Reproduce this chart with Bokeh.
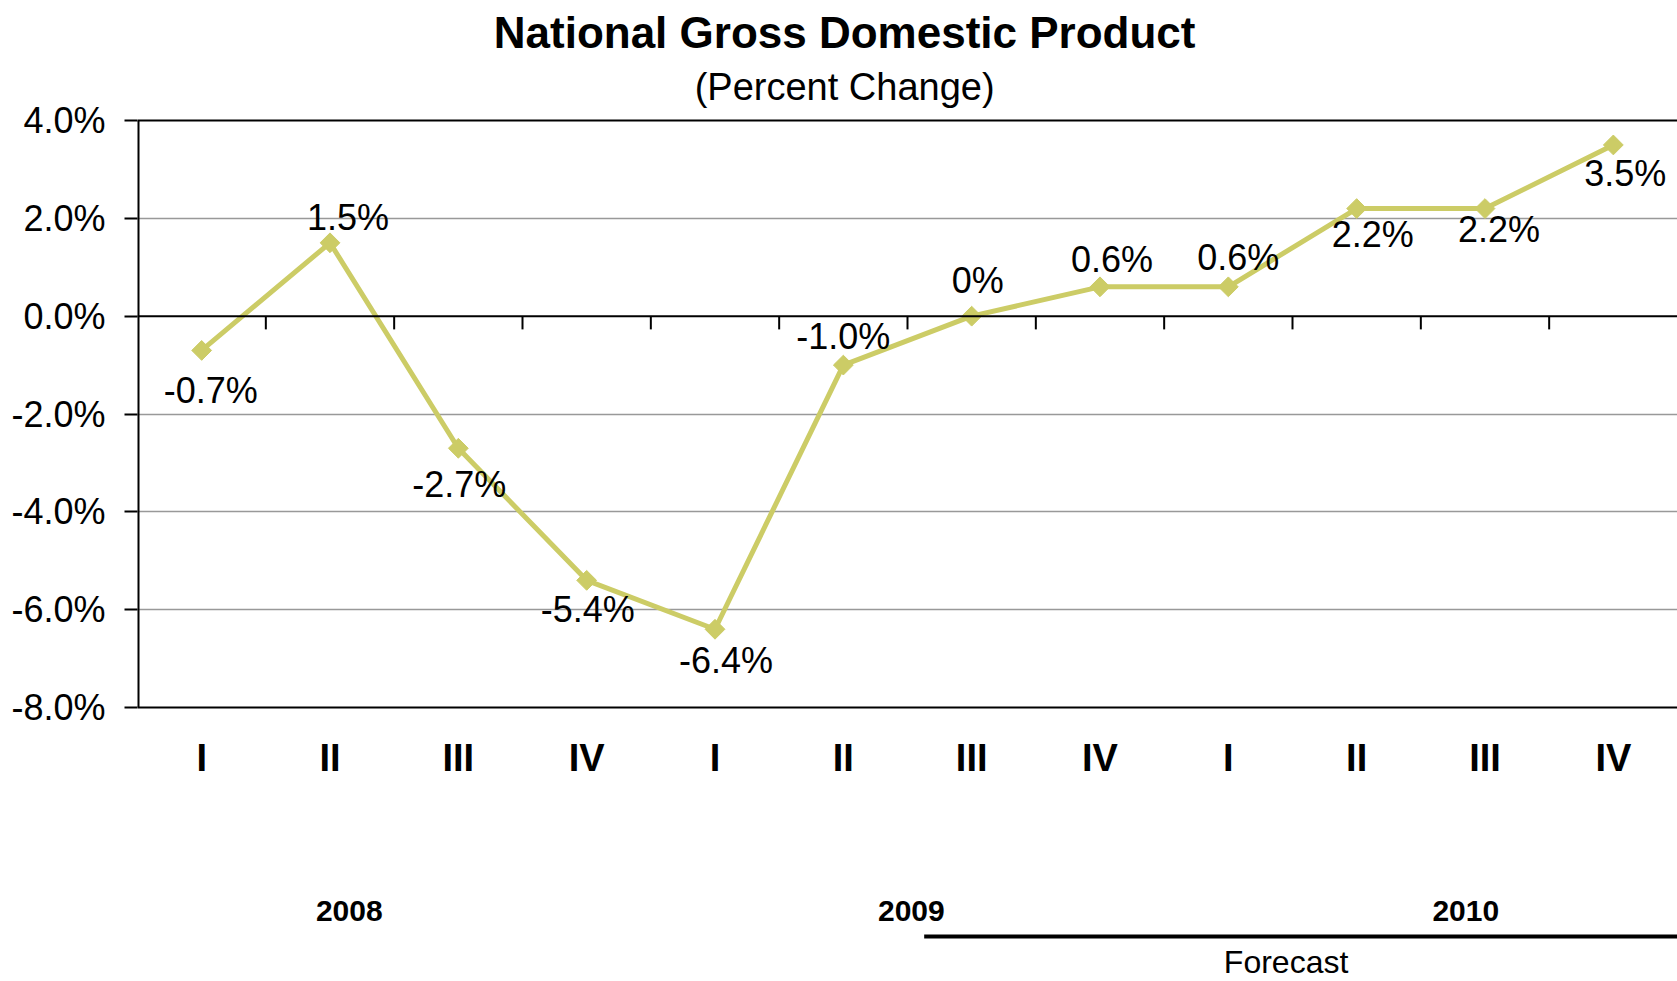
import math
from bokeh.plotting import figure
from bokeh.models import Range1d, FixedTicker, PrintfTickFormatter, Span, ColumnDataSource
from bokeh.core.properties import value
from bokeh.embed import file_html
from bokeh.resources import INLINE

# ---- data ----
quarters = ["I", "II", "III", "IV", "I", "II", "III", "IV", "I", "II", "III", "IV"]
years = ["2008", "2009", "2010"]
gdp = [-0.7, 1.5, -2.7, -5.4, -6.4, -1.0, 0.0, 0.6, 0.6, 2.2, 2.2, 3.5]
y_ticks = [-8, -6, -4, -2, 0, 2, 4]
title_text = "National Gross Domestic Product"
subtitle_text = "(Percent Change)"
forecast_text = "Forecast"

# ---- layout constants (pixel offsets / positions) ----
label_dx = [9, 18, 1, 1, 11, 0, 6, 12, 10, 16, 14, 12]
label_dy = [40, -25, 36, 29, 31, -29, -36, -27, -29, 26, 21, 29]
year_x = [1.15, 5.53, 9.85]
year_y = -12.15
forecast_x0 = 5.63
forecast_y = -12.68
forecast_label_x = 8.45
forecast_label_y = -13.21

FONT = value("Liberation Sans")
LINE_COLOR = "#CCCC66"

xs = list(range(len(gdp)))
labels = ["0%" if v == 0 else f"{v:.1f}%" for v in gdp]

p = figure(width=1677, height=981,
           x_range=Range1d(-0.5, len(gdp) - 0.5),
           y_range=Range1d(-13.6, 6.453),
           output_backend="svg", toolbar_location=None,
           x_axis_location=None,
           min_border_left=137, min_border_right=0,
           min_border_top=0, min_border_bottom=0,
           outline_line_color=None,
           background_fill_color="white", border_fill_color="white")

# y axis
ax = p.yaxis[0]
ax.ticker = FixedTicker(ticks=y_ticks)
ax.formatter = PrintfTickFormatter(format="%.1f%%")
ax.axis_line_color = None
ax.major_tick_out = 13
ax.major_tick_in = 0
ax.minor_tick_out = 0
ax.minor_tick_in = 0
ax.major_tick_line_color = "black"
ax.major_tick_line_width = 2
ax.major_label_standoff = 19
ax.major_label_text_font = "Liberation Sans"
ax.major_label_text_font_size = "36px"
ax.major_label_text_color = "black"

p.ygrid.ticker = FixedTicker(ticks=[t for t in y_ticks if t not in (y_ticks[0], 0, y_ticks[-1])])
p.ygrid.grid_line_color = "#999999"
p.ygrid.grid_line_width = 1.5
p.xgrid.visible = False

for yv in (y_ticks[0], 0, y_ticks[-1]):
    p.add_layout(Span(location=yv, dimension="width", line_color="black", line_width=2))

# left axis line
p.segment(x0=[-0.5], y0=[y_ticks[0]], x1=[-0.5], y1=[y_ticks[-1]], line_color="black", line_width=4)

# category boundary ticks on the zero line
bounds = [i + 0.5 for i in range(len(gdp) - 1)]
p.segment(x0=bounds, y0=[0] * len(bounds), x1=bounds, y1=[-0.27] * len(bounds),
          line_color="black", line_width=2)

# series
src = ColumnDataSource(dict(x=xs, y=gdp, text=labels, dx=label_dx, dy=label_dy))
p.line("x", "y", source=src, line_color=LINE_COLOR, line_width=5)
p.scatter("x", "y", source=src, marker="square", size=14, angle=math.pi / 4,
          fill_color=LINE_COLOR, line_color=LINE_COLOR)
p.text("x", "y", text="text", source=src, x_offset="dx", y_offset="dy",
       text_font=FONT, text_font_size="36px", text_align="center",
       text_baseline="middle", text_color="black")

# quarter labels
p.text(x=xs, y=[y_ticks[0]] * len(xs), text=quarters, y_offset=50,
       text_font=FONT, text_font_size="38px", text_font_style="bold",
       text_align="center", text_baseline="middle", text_color="black")

# year labels
p.text(x=year_x, y=[year_y] * len(years), text=years,
       text_font=FONT, text_font_size="30px", text_font_style="bold",
       text_align="center", text_baseline="middle", text_color="black")

# forecast bar
p.segment(x0=[forecast_x0], y0=[forecast_y], x1=[len(gdp) - 0.5], y1=[forecast_y],
          line_color="black", line_width=4)
p.text(x=[forecast_label_x], y=[forecast_label_y], text=[forecast_text],
       text_font=FONT, text_font_size="32px",
       text_align="center", text_baseline="middle", text_color="black")

# titles
p.text(x=[5.01], y=[5.8], text=[title_text], text_font=FONT, text_font_size="44px",
       text_font_style="bold",
       text_align="center", text_baseline="middle", text_color="black")
p.text(x=[5.01], y=[4.695], text=[subtitle_text], text_font=FONT, text_font_size="38px",
       text_align="center", text_baseline="middle", text_color="black")

open("out.html", "w").write(file_html(p, INLINE))
